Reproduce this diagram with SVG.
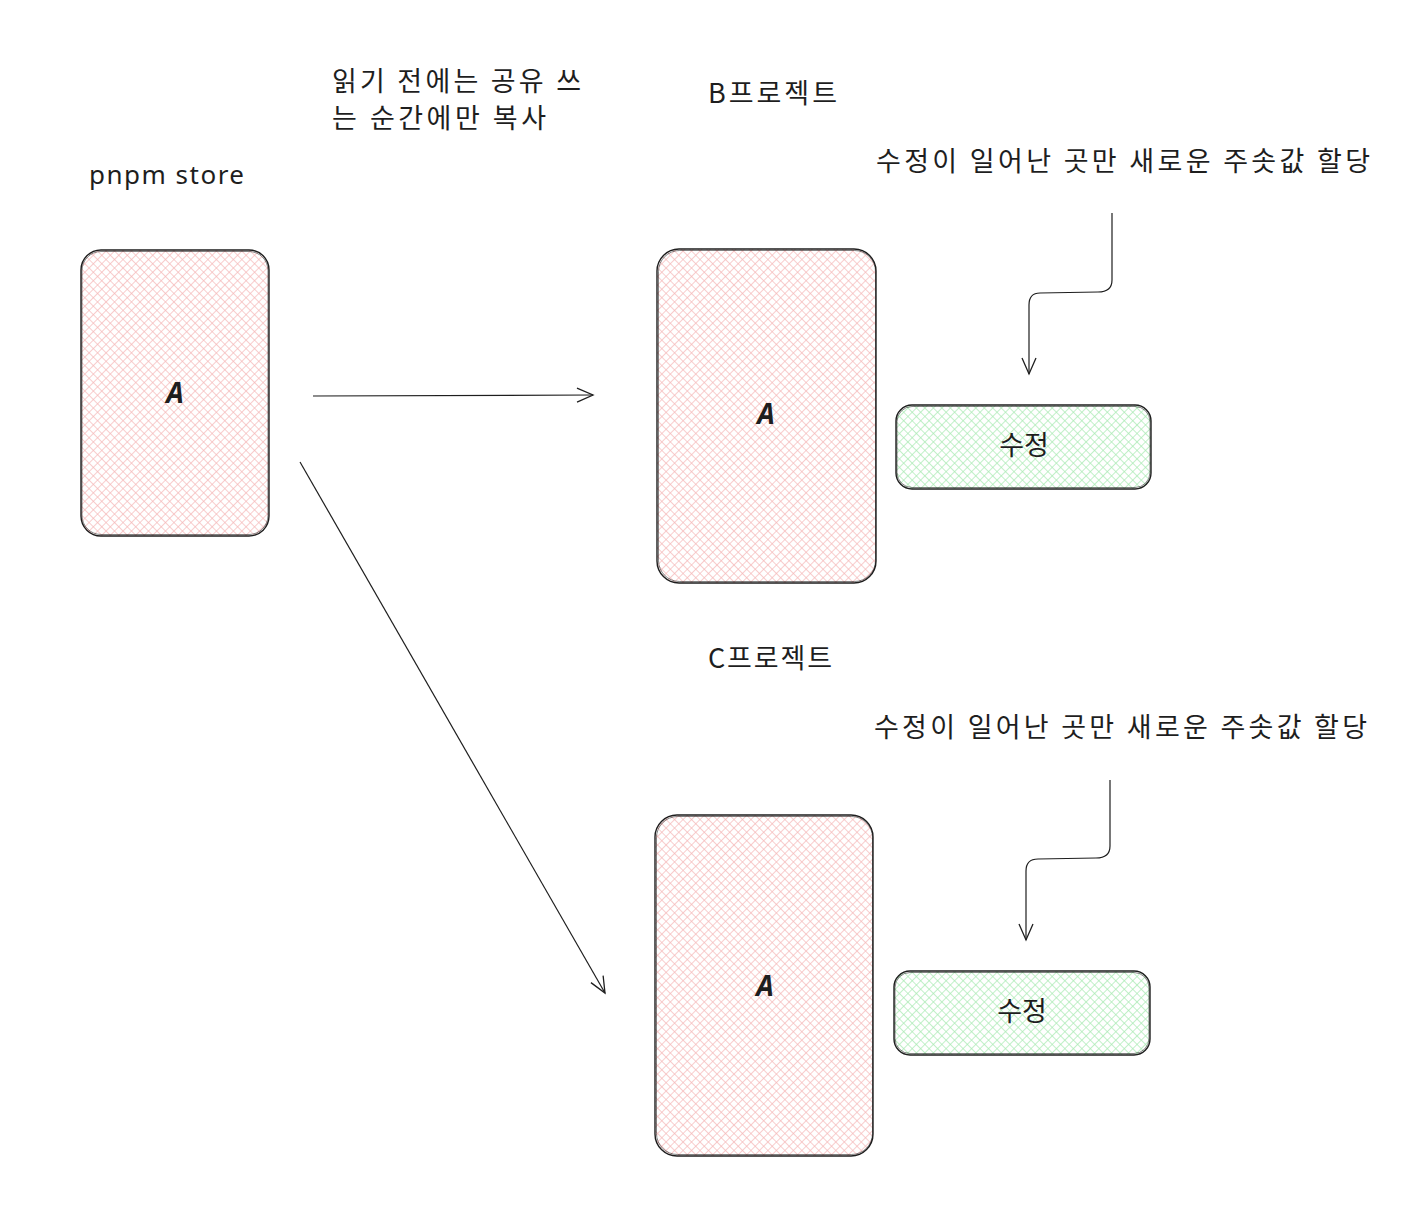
<svg xmlns="http://www.w3.org/2000/svg" width="1418" height="1208" viewBox="0 0 1418 1208">
<defs>
<pattern id="hpink" width="6" height="6" patternUnits="userSpaceOnUse" patternTransform="rotate(45)">
<rect width="6" height="6" fill="#fff"/>
<line x1="0" y1="0" x2="0" y2="6" stroke="#f5b8b8" stroke-width="1.4"/>
<line x1="0" y1="0" x2="6" y2="0" stroke="#f5b8b8" stroke-width="1.4"/>
</pattern>
<pattern id="hgreen" width="6" height="6" patternUnits="userSpaceOnUse" patternTransform="rotate(45)">
<rect width="6" height="6" fill="#fff"/>
<line x1="0" y1="0" x2="0" y2="6" stroke="#a8eab2" stroke-width="1.4"/>
<line x1="0" y1="0" x2="6" y2="0" stroke="#a8eab2" stroke-width="1.4"/>
</pattern>
<marker id="arr" viewBox="0 0 20 20" refX="18" refY="10" markerWidth="20" markerHeight="20" markerUnits="userSpaceOnUse" orient="auto">
<path d="M2 3 L18 10 L2 17" fill="none" stroke="#1e1e1e" stroke-width="1.3"/>
</marker>
<style>
.box{stroke:#1e1e1e;stroke-width:1.4;}
.sk{fill:none;stroke:#1e1e1e;stroke-width:0.8;opacity:0.7}
.kr{font-family:"Noto Sans CJK KR","Noto Sans",sans-serif;font-size:27px;fill:#1e1e1e}
.hand{font-family:"Noto Sans","Noto Sans CJK KR",sans-serif;font-size:26px;fill:#1e1e1e}
.lbl{font-family:"Noto Sans",sans-serif;font-style:italic;font-weight:bold;font-size:28px;fill:#1e1e1e;text-anchor:middle}
.con{fill:none;stroke:#1e1e1e;stroke-width:1.2}
</style>
</defs>
<rect width="1418" height="1208" fill="#fff"/>

<g id="label-note">
<text class="kr" x="332" y="91" textLength="249" lengthAdjust="spacing">읽기 전에는 공유 쓰</text>
<text class="kr" x="332" y="128" textLength="214" lengthAdjust="spacing">는 순간에만 복사</text>
</g>
<g id="label-store"><text class="hand" x="89" y="184" textLength="155" lengthAdjust="spacing">pnpm store</text></g>
<g id="label-b"><text class="kr" x="708" y="103" textLength="129" lengthAdjust="spacing">B프로젝트</text></g>
<g id="label-c"><text class="kr" x="708" y="668" textLength="124" lengthAdjust="spacing">C프로젝트</text></g>
<g id="note-b"><text class="kr" x="876" y="171" textLength="494" lengthAdjust="spacing">수정이 일어난 곳만 새로운 주솟값 할당</text></g>
<g id="note-c"><text class="kr" x="874" y="737" textLength="493" lengthAdjust="spacing">수정이 일어난 곳만 새로운 주솟값 할당</text></g>

<g id="store-a">
<rect class="box" x="81" y="250" width="188" height="286" rx="20" fill="url(#hpink)"/>
<rect class="sk" x="82" y="251.5" width="186" height="283" rx="19"/>
<text class="lbl" x="175" y="403">A</text>
</g>
<g id="b-a">
<rect class="box" x="657" y="249" width="219" height="334" rx="22" fill="url(#hpink)"/>
<rect class="sk" x="658.5" y="250.5" width="217" height="331" rx="21"/>
<text class="lbl" x="766" y="424">A</text>
</g>
<g id="b-mod">
<rect class="box" x="896" y="405" width="255" height="84" rx="16" fill="url(#hgreen)"/>
<rect class="sk" x="897" y="406.5" width="253" height="81" rx="15"/>
<text class="kr" x="1024" y="455" text-anchor="middle">수정</text>
</g>
<g id="c-a">
<rect class="box" x="655" y="815" width="218" height="341" rx="22" fill="url(#hpink)"/>
<rect class="sk" x="656.5" y="816.5" width="216" height="338" rx="21"/>
<text class="lbl" x="765" y="996">A</text>
</g>
<g id="c-mod">
<rect class="box" x="894" y="971" width="256" height="84" rx="16" fill="url(#hgreen)"/>
<rect class="sk" x="895" y="972.5" width="254" height="81" rx="15"/>
<text class="kr" x="1022" y="1021" text-anchor="middle">수정</text>
</g>

<g id="connectors">
<path class="con" d="M313 396 L593 395" marker-end="url(#arr)"/>
<path class="con" d="M300 462 L605 993" marker-end="url(#arr)"/>
<path class="con" d="M1112 213 L1112 280 Q1112 292 1098 292 L1040 293 Q1029 293 1029 305 L1029 374" marker-end="url(#arr)"/>
<path class="con" d="M1110 780 L1110 846 Q1110 858 1096 858 L1038 859 Q1026 859 1026 871 L1026 940" marker-end="url(#arr)"/>
</g>
</svg>
